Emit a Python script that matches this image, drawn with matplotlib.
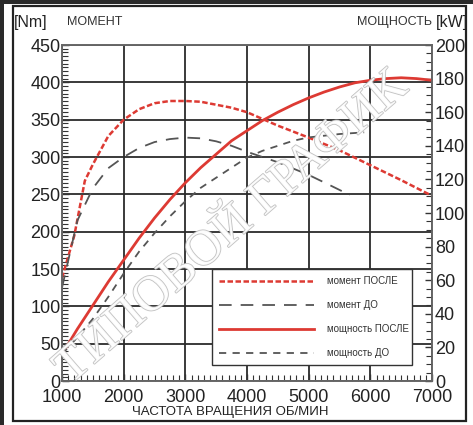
import numpy as np
import matplotlib
matplotlib.use("Agg")
import matplotlib.pyplot as plt
import matplotlib.patheffects as pe
from matplotlib.patches import Rectangle

plt.rcParams['font.family'] = ['Liberation Sans', 'DejaVu Sans']

# torque after tuning [Nm]
rpm_ta = [1000, 1200, 1370, 1500, 1750, 2000, 2250, 2500, 2750, 3000, 3250, 3500,
          3750, 4000, 4500, 5000, 5500, 6000, 6500, 7000]
torque_after = [138, 195, 268, 290, 328, 350, 364, 372, 375, 375, 374, 370,
                366, 360, 342, 326, 309, 289, 269, 248]

# torque before tuning [Nm]
rpm_tb = [1000, 1250, 1500, 1750, 2000, 2250, 2500, 2750, 3000, 3250, 3500, 3750,
          4000, 4500, 5000, 5350, 5670]
torque_before = [125, 215, 258, 285, 300, 312, 320, 324, 326, 325, 321, 315,
                 307, 293, 276, 262, 249]

# power after tuning [kW]
rpm_pa = [1000, 1250, 1500, 1750, 2000, 2250, 2500, 2750, 3000, 3250, 3500, 3750,
          4000, 4250, 4500, 4750, 5000, 5250, 5500, 5750, 6000, 6250, 6500, 6750, 7000]
power_after = [16, 31, 45, 59, 72, 85, 97, 108, 118, 127, 135, 143,
               149, 155, 160, 164.5, 168.5, 172, 175, 177.5, 179, 180, 180.5, 180, 179]

# power before tuning [kW]
rpm_pb = [1000, 1250, 1500, 1750, 2000, 2250, 2500, 2750, 3000, 3250, 3500, 3750,
          4000, 4250, 4500, 4750, 5000, 5250, 5500, 5900]
power_before = [16, 26, 37, 50, 64, 77, 88, 98, 107, 115, 121, 127,
                133, 137, 140, 143, 145, 146, 147, 148]

labels = ['момент ПОСЛЕ', 'момент ДО', 'мощность ПОСЛЕ', 'мощность ДО']

red = '#dd3a33'
gray = '#555555'

fig = plt.figure(figsize=(4.73, 4.25), dpi=100)
fig.patch.set_facecolor('white')

# outer frame
fig.patches.append(Rectangle((0, 0), 1, 1, transform=fig.transFigure,
                             facecolor='#2a2a2a', edgecolor='none', zorder=-3))
fig.patches.append(Rectangle((4/473, 0), 1 - 4/473, 1 - 4/425, transform=fig.transFigure,
                             facecolor='white', edgecolor='none', zorder=-2))
fig.patches.append(Rectangle((13/473, 4/425), 453/473, 415/425, transform=fig.transFigure,
                             facecolor='white', edgecolor='#222222', lw=1.6, zorder=-1))

ax = fig.add_axes([62/473, 1 - 381/425, 370/473, 336/425])
ax2 = ax.twinx()

ax.set_xlim(1000, 7000)
ax.set_ylim(0, 450)
ax2.set_ylim(0, 200)

ax.set_xticks(np.arange(1000, 7001, 1000))
ax.set_xticks(np.arange(1000, 7001, 100), minor=True)
ax.set_yticks(np.arange(0, 451, 50))
ax.set_yticks(np.arange(0, 451, 5), minor=True)
ax2.set_yticks(np.arange(0, 201, 20))
ax2.set_yticks(np.arange(0, 201, 5), minor=True)

ax.grid(True, which='major', color='#2b2b2b', lw=1.3)
ax.set_axisbelow(True)

for a in (ax, ax2):
    a.tick_params(which='both', direction='in', labelsize=13, colors='#333333',
                  labelcolor='#222222')
    a.tick_params(which='major', length=5, width=1)
    a.tick_params(which='minor', length=4, width=0.8)
    for s in a.spines.values():
        s.set_color('#666666')
        s.set_linewidth(1.2)
ax.tick_params(axis='x', pad=6)
ax.tick_params(axis='y', pad=1)
ax2.tick_params(axis='y', pad=2)

l1, = ax.plot(rpm_ta, torque_after, color=red, lw=1.8, dashes=(2.2, 1.0))
l2, = ax.plot(rpm_tb, torque_before, color=gray, lw=1.3, dashes=(7, 5))
l3, = ax2.plot(rpm_pa, power_after, color=red, lw=2.0)
l4, = ax2.plot(rpm_pb, power_before, color=gray, lw=1.3, dashes=(4, 3.5))

leg = ax2.legend([l1, l2, l3, l4], labels, loc='lower left',
                 bbox_to_anchor=(0.392, 0.033, 0.567, 0.274), mode='expand',
                 fontsize=7, handlelength=9.8, handletextpad=1.3,
                 labelspacing=1.45, borderpad=0.7, fancybox=False,
                 framealpha=1, edgecolor='#333333')
leg.get_frame().set_linewidth(1.0)
for t in leg.get_texts():
    t.set_color('#333333')

fig.text(14/473, 1 - 22/425, '[Nm]', fontsize=11.5, color='#222222', va='center')
fig.text(67/473, 1 - 22/425, 'МОМЕНТ', fontsize=9, color='#333333', va='center')
fig.text(432/473, 1 - 22/425, 'МОЩНОСТЬ', fontsize=9, color='#333333', va='center', ha='right')
fig.text(436/473, 1 - 22/425, '[kW]', fontsize=11.5, color='#222222', va='center')
fig.text(230/473, 1 - 412/425, 'ЧАСТОТА ВРАЩЕНИЯ ОБ/МИН', fontsize=9.5,
         color='#222222', va='center', ha='center')

# watermark
wm = fig.text(232/473, 1 - 228/425, 'ТИПОВОЙ ГРАФИК', fontsize=36,
              family=['Liberation Serif', 'DejaVu Serif'], rotation=41,
              ha='center', va='center', color='white', alpha=0.9, zorder=10)
wm.set_path_effects([pe.withStroke(linewidth=1.2, foreground='#bbbbbb')])

fig.savefig('out.png', dpi=100)
